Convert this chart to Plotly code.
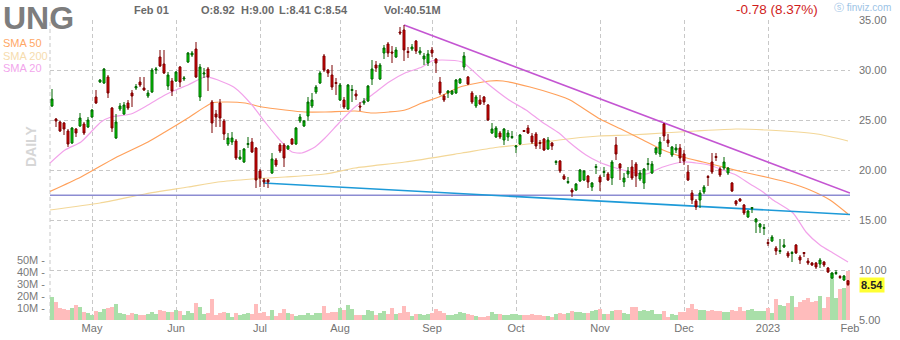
import plotly.graph_objects as go

# ---------------- data ----------------
opens = [26.4,25.1,24.8,24.7,23.9,22.7,24.1,24.4,24.6,24.3,25.3,27.3,28.8,28.7,29.3,26.2,23.2,26.1,25.6,26.7,
         27.7,28.2,28.8,28.2,27.4,27.8,30.0,31.3,30.6,28.4,28.9,28.9,30.3,29.1,30.8,31.5,32.1,27.3,29.6,30.1,
         26.8,25.6,26.7,24.9,22.6,22.8,22.9,21.1,20.8,22.55,22.8,22.2,19.9,19.0,19.0,19.7,21.0,22.5,22.5,22.1,
         23.1,22.6,24.9,24.4,25.4,26.4,27.8,28.7,31.4,30.0,29.5,28.75,27.0,27.0,26.1,27.95,27.6,26.4,26.7,26.9,
         29.1,30.5,29.1,31.7,32.6,31.8,31.3,33.8,34.0,31.85,32.1,32.9,31.7,31.1,30.7,32.0,31.1,28.8,27.4,27.7,
         27.6,27.7,28.7,30.3,29.3,27.7,26.4,27.0,27.3,26.5,23.7,23.3,23.7,23.0,23.3,23.25,22.3,22.6,23.95,24.2,
         23.4,23.6,22.75,23.1,22.1,22.7,20.75,20.9,19.4,18.75,18.0,18.0,18.9,19.0,19.4,18.3,20.25,19.3,19.75,19.6,
         19.2,22.5,20.6,18.8,19.6,20.3,20.6,19.1,18.7,20.55,19.7,21.7,21.6,24.6,23.0,21.5,22.0,22.2,21.6,19.8,
         17.7,16.9,17.0,17.8,19.35,20.8,21.35,20.1,20.2,19.7,18.7,16.9,17.1,16.5,15.3,16.15,14.8,14.3,14.15,12.75,
         12.9,12.2,11.85,12.3,11.7,11.65,12.5,11.3,11.75,10.9,10.7,10.7,10.6,10.8,10.2,9.2,9.65,9.35,9.0,8.92]
highs = [28.1,25.2,24.9,24.8,24.1,24.3,24.2,25.7,24.8,25.3,26.1,28.0,29.1,30.2,29.5,26.3,25.6,26.7,26.8,27.0,
         28.0,28.6,29.3,29.3,28.0,30.2,30.3,32.0,32.0,29.8,29.2,29.9,30.4,29.4,31.8,31.9,32.8,30.6,30.2,30.3,
         27.0,26.0,27.1,25.1,23.7,23.8,23.1,22.0,22.2,23.3,23.2,22.3,20.1,19.2,19.1,21.7,21.2,22.7,22.7,22.5,
         23.2,24.3,25.6,25.0,27.3,27.7,28.5,29.9,31.6,30.1,30.5,29.2,28.7,27.3,28.6,28.5,28.0,26.8,27.2,28.5,
         31.0,30.9,30.7,32.5,32.8,32.4,32.3,34.3,34.5,32.3,32.6,33.0,32.3,31.7,32.0,32.3,31.2,29.3,27.6,28.0,
         28.0,29.1,29.2,31.8,29.4,27.9,27.5,27.5,27.4,26.6,24.7,24.4,23.9,24.2,24.0,23.9,22.5,23.6,24.0,24.5,
         23.7,23.8,23.0,23.2,23.3,22.8,21.0,21.0,19.6,19.3,18.2,18.7,20.1,20.0,19.5,18.8,20.6,19.5,20.3,19.8,
         21.0,23.3,20.7,19.7,20.3,21.0,20.8,20.0,20.2,21.2,20.9,22.3,23.3,24.7,23.6,22.4,22.6,22.6,22.0,20.5,
         18.0,17.1,18.0,18.5,19.5,21.7,21.7,20.3,21.3,20.3,18.8,17.0,17.2,16.6,16.0,16.3,15.2,14.7,14.6,13.1,
         13.5,12.4,13.1,13.1,11.9,11.9,12.6,11.5,11.8,11.2,10.8,10.8,11.2,10.9,10.3,9.8,10.0,9.5,9.5,9.0]
lows = [26.3,24.3,23.8,23.5,22.3,22.6,23.3,24.3,23.5,24.2,25.2,26.6,28.7,28.6,27.2,23.8,23.1,25.9,25.5,26.0,
        26.3,28.0,28.3,27.9,27.2,27.7,29.6,30.3,29.6,28.0,27.4,28.8,28.3,28.9,30.7,31.3,29.2,26.9,29.2,27.9,
        23.7,24.3,24.3,23.0,22.4,22.5,21.0,21.0,20.7,22.2,21.7,18.2,18.3,18.3,18.2,19.6,20.3,21.7,20.3,22.0,
        22.5,22.5,24.7,24.3,24.9,26.2,27.6,28.6,29.8,29.3,28.0,27.5,26.9,26.1,26.0,26.8,27.0,25.9,26.5,26.8,
        28.5,29.8,29.0,31.1,31.3,30.7,31.2,33.5,30.9,31.2,31.9,31.6,31.5,30.5,30.4,31.3,29.7,27.5,26.8,27.2,
        27.5,27.6,28.6,30.0,28.5,26.6,26.2,26.5,26.5,24.9,23.6,23.2,23.1,22.5,22.9,23.1,21.7,22.5,23.8,23.6,
        22.6,22.1,22.1,21.9,22.0,22.0,20.5,19.7,19.0,18.6,17.3,17.9,18.8,18.9,18.2,17.9,19.6,17.9,19.3,18.9,
        18.5,21.0,19.0,18.3,19.2,19.0,18.3,18.9,18.1,20.0,19.6,21.5,21.3,22.9,22.3,21.3,21.7,20.7,20.5,18.9,
        16.6,16.0,16.2,17.6,18.4,19.6,20.9,19.3,20.0,19.5,17.8,16.4,16.8,15.5,15.2,15.7,13.7,13.7,13.5,12.4,
        12.8,11.5,11.6,12.2,11.2,10.8,11.6,10.6,11.3,10.5,10.4,10.1,10.2,10.3,9.7,9.1,9.5,9.1,8.9,8.41]
closes = [27.1,24.9,23.9,24.1,22.6,24.2,23.7,25.2,23.7,25.0,26.0,26.7,29.0,30.1,27.7,24.2,24.8,26.4,26.5,26.2,
          27.4,28.35,28.5,28.0,27.7,30.0,30.1,30.4,29.7,29.5,27.9,29.8,28.8,29.2,31.7,31.7,29.3,30.3,29.7,29.3,
          24.7,25.3,25.2,23.6,23.2,23.2,21.2,21.3,22.1,22.65,21.8,19.0,19.2,18.8,18.8,21.1,20.5,21.9,21.2,22.4,
          22.6,24.2,25.3,24.9,26.8,27.0,28.3,29.7,30.0,29.7,28.3,28.65,28.5,26.3,28.5,28.05,27.4,26.3,26.9,28.4,
          30.1,30.2,30.5,32.2,31.7,31.7,32.0,33.7,32.0,31.75,32.3,31.9,31.9,31.4,31.6,31.7,30.7,27.7,27.0,27.9,
          27.9,29.0,29.1,31.4,28.6,26.8,27.3,26.6,26.8,25.0,24.1,24.2,23.3,24.1,23.7,23.35,22.4,23.5,23.85,23.7,
          22.8,22.4,22.65,22.0,23.0,22.4,20.85,19.9,19.1,18.85,17.8,18.6,20.0,19.9,18.8,18.7,20.35,18.8,19.85,19.0,
          20.8,21.6,20.2,19.2,19.9,19.2,19.4,19.7,20.1,20.65,20.6,22.2,22.8,23.4,22.7,22.3,22.2,21.2,20.9,19.0,
          17.0,16.3,17.7,18.3,19.25,19.8,21.25,19.5,20.8,20.2,17.9,16.6,16.9,15.7,15.9,16.25,15.1,14.6,14.25,12.65,
          13.3,11.9,11.95,12.5,11.4,11.75,11.7,11.0,11.65,10.7,10.5,10.3,11.0,10.5,9.8,9.7,9.75,9.25,9.4,8.54]
volume_m = [19.4,15.3,10.3,9.4,8.6,10.3,12.8,11.1,6.9,6.1,4.4,7.8,6.9,9.4,10.3,11.1,13.6,6.1,5.3,4.4,
            6.1,5.3,4.4,4.4,5.3,6.9,5.3,8.6,7.8,6.9,6.9,8.6,7.8,4.4,7.8,6.1,14.4,11.1,5.3,6.1,
            17.8,4.4,6.1,6.9,6.1,2.8,6.1,4.4,5.3,6.1,5.3,13.6,6.1,6.9,3.6,8.6,3.6,6.1,9.4,6.1,
            5.3,3.6,4.4,4.4,6.1,4.4,6.1,6.1,11.9,6.1,6.9,6.9,10.3,8.6,12.8,9.4,4.4,4.4,4.4,8.6,
            7.8,4.4,6.1,7.8,5.3,10.3,5.3,6.1,11.9,6.9,3.6,5.3,5.3,4.4,5.3,6.1,9.4,7.8,6.1,4.4,
            4.4,5.3,6.9,6.1,5.3,4.4,3.6,2.8,2.8,3.6,6.9,5.3,5.3,4.4,4.4,5.3,5.3,4.4,4.4,4.4,
            5.3,4.4,4.4,3.6,3.6,2.8,5.3,6.1,5.3,6.1,7.8,6.9,6.9,6.1,6.1,7.8,8.6,9.4,5.3,5.3,
            7.8,8.6,8.6,6.1,5.3,11.1,11.1,7.8,8.6,7.8,8.6,5.3,5.3,7.8,2.8,5.3,4.4,6.9,6.9,10.3,
            13.6,9.4,8.6,8.6,7.8,8.6,7.8,7.8,6.9,6.9,8.6,7.8,11.1,7.8,8.6,9.4,7.8,7.8,7.8,10.3,
            6.1,17.8,12.8,11.9,14.4,20.3,11.1,15.3,16.9,18.6,15.3,16.1,20.3,10.3,19.4,39.2,18.6,26.1,26.9,40.51]

month_idx = [10, 31, 52, 72, 95, 116, 137, 158, 179, 199.5]
month_labels = ["May", "Jun", "Jul", "Aug", "Sep", "Oct", "Nov", "Dec", "2023", "Feb"]
price_ticks = [5, 10, 15, 20, 25, 30, 35]
vol_ticks_m = [10, 20, 30, 40, 50]

sma20_x = [-0.5,3.25,7.25,9.75,12.25,14.75,19.75,24,28.25,31.5,34,38.25,41.5,45.75,50,53.25,56.5,60,62.5,65.75,
           68.25,71.75,75.75,80,84.25,88.25,92.5,95,97.5,102.5,107.75,114.25,118.5,122.5,126.75,129.25,133.5,
           136.75,141,146,148.5,152.75,157.75,161,164.25,167.75,171,174.5,177.75,180.25,185.25,188.5,192,195.25,199]
sma20_y = [20.7,22.0,22.8,23.8,24.8,25.3,25.6,26.5,27.5,28.1,28.5,29.3,29.0,28.2,26.5,24.8,23.2,21.8,21.7,22.3,
           23.2,24.7,26.3,27.5,28.8,29.7,30.3,30.9,31.0,30.8,29.0,27.0,26.0,24.8,23.7,22.8,21.5,
           20.8,20.2,19.7,19.6,20.3,20.8,20.7,20.5,20.0,19.5,18.6,17.8,17.0,15.7,13.8,12.5,11.7,10.8]
sma50_x = [-0.5,7.25,15.75,24,28.25,34,40,43.25,48.25,52.5,58.25,63.25,68.25,75.75,80,84.25,88.25,92.5,96.75,
           102,109.5,112.75,119.5,126.25,129.5,137,142.75,147.75,152.75,157.75,162.75,167.75,172.75,179.5,
           184.5,189.5,194.5,199]
sma50_y = [17.85,19.3,21.2,22.8,23.8,25.2,26.7,26.8,26.7,26.3,26.0,25.8,25.8,25.9,25.7,25.8,26.0,26.7,27.3,
           28.3,28.9,28.9,28.3,27.5,27.0,25.1,24.0,23.0,22.0,21.3,20.8,20.3,19.8,19.2,
           18.7,18.0,17.0,15.6]
sma200_x = [-0.5,12,23.25,34,41.5,50,58.25,68.25,75.75,88.25,102.5,111.75,121.75,126.75,136.75,144.25,152.75,
            161,171,178.75,191.25,199]
sma200_y = [16.0,16.7,17.6,18.3,18.8,19.1,19.3,19.6,20.2,20.8,21.7,22.3,22.7,23.0,23.4,23.5,23.7,
            23.9,24.1,24.0,23.6,22.9]

resist_x = [88, 199.5]
resist_y = [34.5, 17.7]
support_x = [52.75, 199.5]
support_y = [18.7, 15.55]
level_x = [-0.5, 199.5]
level_y = [17.47, 17.47]

# ---------------- figure ----------------
idx = list(range(len(opens)))
vol_colors = ["#a9dfa9" if c >= o else "#ffbcbc" for o, c in zip(opens, closes)]

fig = go.Figure()

fig.add_trace(go.Bar(x=idx, y=[v * 1e6 for v in volume_m], width=1, marker=dict(color=vol_colors, line=dict(width=0)),
                     yaxis="y", xaxis="x", hoverinfo="skip"))

for xs, ys, col, w, shp in [
    (sma200_x, sma200_y, "#f3d798", 1.2, "spline"),
    (sma50_x, sma50_y, "#ffa05a", 1.2, "spline"),
    (sma20_x, sma20_y, "#f2a2ea", 1.2, "spline"),
    (level_x, level_y, "#8c8cd2", 1.5, "linear"),
    (support_x, support_y, "#1d9ad8", 1.6, "linear"),
    (resist_x, resist_y, "#c455d2", 1.6, "linear"),
]:
    fig.add_trace(go.Scatter(x=xs, y=ys, mode="lines", line=dict(color=col, width=w, shape=shp, smoothing=0.6),
                             yaxis="y2", xaxis="x", hoverinfo="skip"))

fig.add_trace(go.Candlestick(
    x=idx, open=opens, high=highs, low=lows, close=closes, yaxis="y3", xaxis="x",
    increasing=dict(line=dict(color="#006600", width=1), fillcolor="#00dd00"),
    decreasing=dict(line=dict(color="#7a0000", width=1), fillcolor="#e00000"),
    whiskerwidth=0))

grid = dict(showgrid=True, gridcolor="#c8c8c8", griddash="4px,3px", gridwidth=1)
tickfont = dict(family="Liberation Sans, Arial", size=11, color="#737373")

fig.update_layout(
    width=900, height=340, margin=dict(l=50, r=50, t=20, b=20, pad=0, autoexpand=False),
    paper_bgcolor="white", plot_bgcolor="white", showlegend=False,
    font=dict(family="Liberation Sans, Arial"),
    bargap=0,
    xaxis=dict(range=[-0.5, 199.5], tickvals=month_idx, ticktext=month_labels, zeroline=False, automargin=False,
               showline=False, ticks="", tickfont=tickfont, rangeslider=dict(visible=False), **grid),
    yaxis=dict(range=[0, 250e6], side="left", tickvals=[v * 1e6 for v in vol_ticks_m], automargin=False,
               ticktext=[f"{v}M -" for v in vol_ticks_m], showgrid=False, zeroline=False, ticks="",
               tickfont=dict(family="Liberation Sans, Arial", size=11, color="#7a7a7a"), ticklabelstandoff=4),
    yaxis2=dict(range=[5, 35], overlaying="y", visible=False, automargin=False),
    yaxis3=dict(range=[5, 35], overlaying="y", side="right", tickvals=price_ticks, automargin=False,
                ticktext=[f"{v:.2f}" for v in price_ticks], zeroline=False, ticks="",
                tickfont=tickfont, ticklabelstandoff=8, **grid),
)

# left border of the plot
fig.add_shape(type="line", xref="paper", yref="paper", x0=0, x1=0, y0=0, y1=1,
              line=dict(color="#c8c8c8", width=1, dash="4px,3px"), layer="below")


def px(x):
    return (x - 50) / 800


def py(y):
    return (320 - y) / 300


def note(text, x, y, size, color, xanchor="left", bold=False, pad=1, **kw):
    if bold:
        text = f"<b>{text}</b>"
    fig.add_annotation(text=text, x=px(x), y=py(y), xref="paper", yref="paper", xanchor=xanchor,
                       yanchor="middle", showarrow=False, borderpad=pad,
                       font=dict(family="Liberation Sans, Arial", size=size, color=color), **kw)


note("UNG", 2, 18.4, 32, "#7d7d7d", bold=True, pad=0)
note("SMA 50", 2, 43.3, 11, "#ffa766", pad=0)
note("SMA 200", 2, 55.6, 11, "#f6dcae", pad=0)
note("SMA 20", 2, 67.9, 11, "#f2a6ec", pad=0)
note("Feb 01", 132, 10, 11, "#6a6a6a", bold=True)
note("O:8.92", 199, 10, 11, "#6a6a6a", bold=True)
note("H:9.00", 239, 10, 11, "#6a6a6a", bold=True)
note("L:8.41", 277, 10, 11, "#6a6a6a", bold=True)
note("C:8.54", 312, 10, 11, "#6a6a6a", bold=True)
note("Vol:40.51M", 382, 10, 11, "#6a6a6a", bold=True)
note("-0.78 (8.37%)", 734, 10, 13.5, "#d01c1c")
note("ⓢ finviz.com", 833, 7, 10, "#9cc3e6", pad=0)
fig.add_annotation(text="<b>DAILY</b>", x=px(31), y=py(147), xref="paper", yref="paper", textangle=-90,
                   showarrow=False, xanchor="center", yanchor="middle",
                   font=dict(family="Liberation Sans, Arial", size=14, color="#d6d6d6"))
fig.add_annotation(text="<b>8.54</b>", x=1, y=closes[-1], xref="paper", yref="y3", xanchor="left", yanchor="middle",
                   xshift=9, showarrow=False, bgcolor="#ffff33", borderpad=1,
                   font=dict(family="Liberation Sans, Arial", size=11, color="#222222"))

fig.write_html("out.html")
